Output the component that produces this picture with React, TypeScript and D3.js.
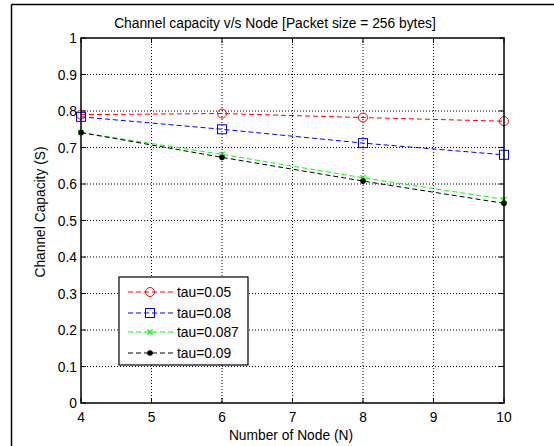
import React from "react";
import * as d3 from "d3";

const nodes = [4, 6, 8, 10];
const tau005 = [0.79, 0.793, 0.782, 0.772];
const tau008 = [0.784, 0.75, 0.712, 0.68];
const tau0087 = [0.741, 0.681, 0.617, 0.558];
const tau009 = [0.741, 0.673, 0.608, 0.547];
const xTicks = [4, 5, 6, 7, 8, 9, 10];
const yTicks = [0, 0.1, 0.2, 0.3, 0.4, 0.5, 0.6, 0.7, 0.8, 0.9, 1];
const seriesNames = ["tau=0.05", "tau=0.08", "tau=0.087", "tau=0.09"];

const W = 554, H = 446;
const L = 81, R = 504, T = 38, B = 403;
const font = "Liberation Sans, Arial, sans-serif";
const FS = 13.8;

function Marker({ kind, x, y, color }: { kind: string; x: number; y: number; color: string }) {
  if (kind === "o") return <circle cx={x} cy={y} r={4.5} fill="none" stroke={color} strokeWidth={1} />;
  if (kind === "s") return <rect x={x - 4.5} y={y - 4.5} width={9} height={9} fill="none" stroke={color} strokeWidth={1} />;
  if (kind === "x")
    return (
      <g stroke={color} strokeWidth={1.2}>
        <line x1={x - 2.5} y1={y - 2.5} x2={x + 2.5} y2={y + 2.5} />
        <line x1={x - 2.5} y1={y + 2.5} x2={x + 2.5} y2={y - 2.5} />
      </g>
    );
  return <circle cx={x} cy={y} r={2.8} fill={color} stroke="none" />;
}

export default function App() {
  const x = d3.scaleLinear().domain([4, 10]).range([L, R]);
  const y = d3.scaleLinear().domain([0, 1]).range([B, T]);
  const series = [
    { name: seriesNames[0], values: tau005, color: "#ff0000", marker: "o" },
    { name: seriesNames[1], values: tau008, color: "#0000ff", marker: "s" },
    { name: seriesNames[2], values: tau0087, color: "#00ff00", marker: "x" },
    { name: seriesNames[3], values: tau009, color: "#000000", marker: "." },
  ];
  const line = d3
    .line<number>()
    .x((_, i) => x(nodes[i]))
    .y((d) => y(d));

  const legX = 119, legY = 277, legW = 129, legH = 88;
  const legRows = [292, 313, 332, 353];

  return (
    <svg width={W} height={H} style={{ position: "absolute", left: 0, top: 0, background: "#fff" }} fontFamily={font}>
      <rect x={0} y={0} width={W} height={H} fill="#fff" />
      {/* outer frame */}
      <line x1={11.5} y1={4.5} x2={W} y2={4.5} stroke="#000" strokeWidth={1.5} />
      <line x1={11.5} y1={4.5} x2={11.5} y2={H} stroke="#000" strokeWidth={1.5} />
      {/* grid */}
      {xTicks.slice(1, -1).map((t) => (
        <line key={"gx" + t} x1={x(t)} x2={x(t)} y1={T} y2={B} stroke="#000" strokeWidth={1} strokeDasharray="1,2" />
      ))}
      {yTicks.slice(1, -1).map((t) => (
        <line key={"gy" + t} x1={L} x2={R} y1={y(t)} y2={y(t)} stroke="#000" strokeWidth={1} strokeDasharray="1,2" />
      ))}
      {/* ticks */}
      {xTicks.map((t) => (
        <g key={"tx" + t}>
          <line x1={x(t)} x2={x(t)} y1={B} y2={B - 5} stroke="#000" />
          <line x1={x(t)} x2={x(t)} y1={T} y2={T + 5} stroke="#000" />
          <text x={x(t)} y={B + 19} textAnchor="middle" fontSize={FS} fill="#000">
            {t}
          </text>
        </g>
      ))}
      {yTicks.map((t) => (
        <g key={"ty" + t}>
          <line x1={L} x2={L + 5} y1={y(t)} y2={y(t)} stroke="#000" />
          <line x1={R} x2={R - 5} y1={y(t)} y2={y(t)} stroke="#000" />
          <text x={L - 4} y={y(t) + 5} textAnchor="end" fontSize={FS} fill="#000">
            {d3.format("~g")(t)}
          </text>
        </g>
      ))}
      {/* series */}
      {series.map((s) => (
        <g key={s.name}>
          <path d={line(s.values) || ""} fill="none" stroke={s.color} strokeWidth={1} strokeDasharray="5,3" />
          {s.values.map((v, i) => (
            <Marker key={i} kind={s.marker} x={x(nodes[i])} y={y(v)} color={s.color} />
          ))}
        </g>
      ))}
      {/* axes box */}
      <rect x={L} y={T} width={R - L} height={B - T} fill="none" stroke="#000" strokeWidth={1.5} />
      {/* legend */}
      <rect x={legX} y={legY} width={legW} height={legH} fill="#fff" stroke="#000" strokeWidth={1.2} />
      {series.map((s, i) => (
        <g key={"leg" + s.name}>
          <line x1={128} x2={173} y1={legRows[i]} y2={legRows[i]} stroke={s.color} strokeDasharray="5,3" />
          <Marker kind={s.marker} x={150} y={legRows[i]} color={s.color} />
          <text x={177} y={legRows[i] + 5} fontSize={FS} fill="#000">
            {s.name}
          </text>
        </g>
      ))}
      {/* title and labels */}
      <text x={275} y={28} textAnchor="middle" fontSize={FS} fill="#000">
        Channel capacity v/s Node [Packet size = 256 bytes]
      </text>
      <text x={291} y={440} textAnchor="middle" fontSize={FS} fill="#000">
        Number of Node (N)
      </text>
      <text transform={`translate(45, 212) rotate(-90)`} textAnchor="middle" fontSize={FS} fill="#000">
        Channel Capacity (S)
      </text>
    </svg>
  );
}
